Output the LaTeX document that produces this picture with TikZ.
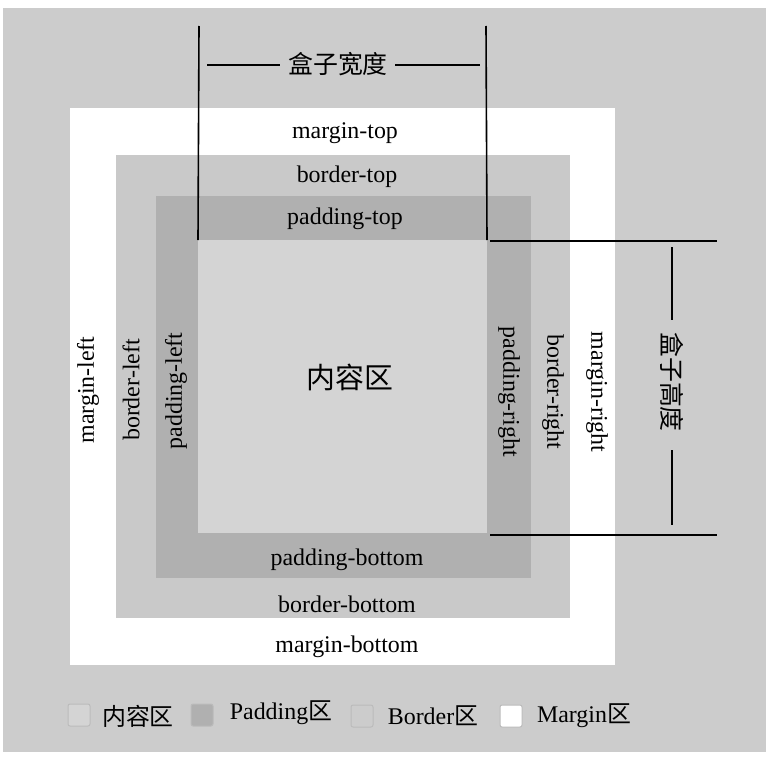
\documentclass[tikz,border=0pt]{standalone}
\usepackage{fontspec}
\setmainfont{Liberation Serif}
\newfontfamily\cjk{Noto Sans CJK SC}
\definecolor{bgc}{HTML}{CCCCCC}
\definecolor{borderc}{HTML}{C9C9C9}
\definecolor{padc}{HTML}{B0B0B0}
\definecolor{contc}{HTML}{D4D4D4}
\definecolor{keyedge}{HTML}{BBBBBB}
\tikzset{
  region/.style={rectangle, inner sep=0pt, outer sep=0pt, draw=none},
  lbl/.style={inner sep=0pt, font=\fontsize{24}{28}\selectfont},
  dimline/.style={line width=1.6bp, black},
  keybox/.style={rectangle, rounded corners=2bp, draw=keyedge, line width=1bp, minimum width=22bp, minimum height=22bp, inner sep=0pt},
  keytxt/.style={inner sep=0pt, font=\fontsize{24}{28}\selectfont}
}
\begin{document}
\begin{tikzpicture}[x=1bp,y=-1bp]
\useasboundingbox (0,0) rectangle (766,762);
\fill[white] (0,0) rectangle (766,762);
\node[region, fill=bgc, minimum width=763bp, minimum height=744bp, anchor=north west] (bg) at (3,8) {};
% regions
\node[region, fill=white, minimum width=545bp, minimum height=557bp, anchor=north west] (margin) at (70,108) {};
\node[region, fill=borderc, minimum width=454bp, minimum height=463bp, anchor=north west] (border) at (116,155) {};
\node[region, fill=padc, minimum width=375bp, minimum height=382bp, anchor=north west] (padding) at (156,196) {};
\node[region, fill=contc, minimum width=289bp, minimum height=293bp, anchor=north west] (content) at (198,240) {};
% labels
\node[lbl] (mt) at (345,133) {margin-top};
\node[lbl] (bt) at (347,177) {border-top};
\node[lbl] (pt) at (345,219) {padding-top};
\node[lbl] (pb) at (347,560) {padding-bottom};
\node[lbl] (bb) at (347,604) {border-bottom};
\node[lbl] (mb) at (347,647) {margin-bottom};
\node[lbl, rotate=90] (ml) at (88,390) {margin-left};
\node[lbl, rotate=90] (bl) at (131,390) {border-left};
\node[lbl, rotate=90] (pl) at (176,391) {padding-left};
\node[lbl, rotate=-90] (pr) at (509,392) {padding-right};
\node[lbl, rotate=-90] (br) at (553,392) {border-right};
\node[lbl, rotate=-90] (mr) at (597,392) {margin-right};
\node[inner sep=0pt, font=\cjk\fontsize{29}{32}\selectfont] (ct) at (350,377) {内容区};
% width dimension
\coordinate (wtl) at (199,26);
\coordinate (wtr) at (486,26);
\draw[dimline] (wtl) -- (content.north west);
\draw[dimline] (wtr) -- (content.north east);
\node[inner sep=0pt, font=\cjk\fontsize{25}{28}\selectfont] (wlab) at (338,64) {盒子宽度};
\coordinate (wa) at (207,65);
\coordinate (wb) at (280,65);
\coordinate (wc) at (395,65);
\coordinate (wd) at (480,65);
\draw[dimline] (wa) -- (wb);
\draw[dimline] (wc) -- (wd);
% height dimension
\coordinate (h1a) at (490,241);
\coordinate (h1b) at (717,241);
\coordinate (h2a) at (490,535);
\coordinate (h2b) at (717,535);
\draw[dimline] (h1a) -- (h1b);
\draw[dimline] (h2a) -- (h2b);
\node[inner sep=0pt, rotate=-90, font=\cjk\fontsize{25}{28}\selectfont] (hlab) at (672,382) {盒子高度};
\coordinate (ha) at (672,247);
\coordinate (hb) at (672,320);
\coordinate (hc) at (672,450);
\coordinate (hd) at (672,525);
\draw[dimline] (ha) -- (hb);
\draw[dimline] (hc) -- (hd);
% legend
\node[keybox, fill=contc] (k1) at (79,715) {};
\node[keytxt, font=\cjk\fontsize{24}{28}\selectfont] (t1) at (138,716) {内容区};
\node[keybox, fill=padc] (k2) at (202,715) {};
\node[keytxt] (t2) at (281,713) {Padding{\cjk 区}};
\node[keybox, fill=bgc] (k3) at (362,716) {};
\node[keytxt] (t3) at (433,716) {Border{\cjk 区}};
\node[keybox, fill=white] (k4) at (511,716) {};
\node[keytxt] (t4) at (584,716) {Margin{\cjk 区}};
\end{tikzpicture}
\end{document}
